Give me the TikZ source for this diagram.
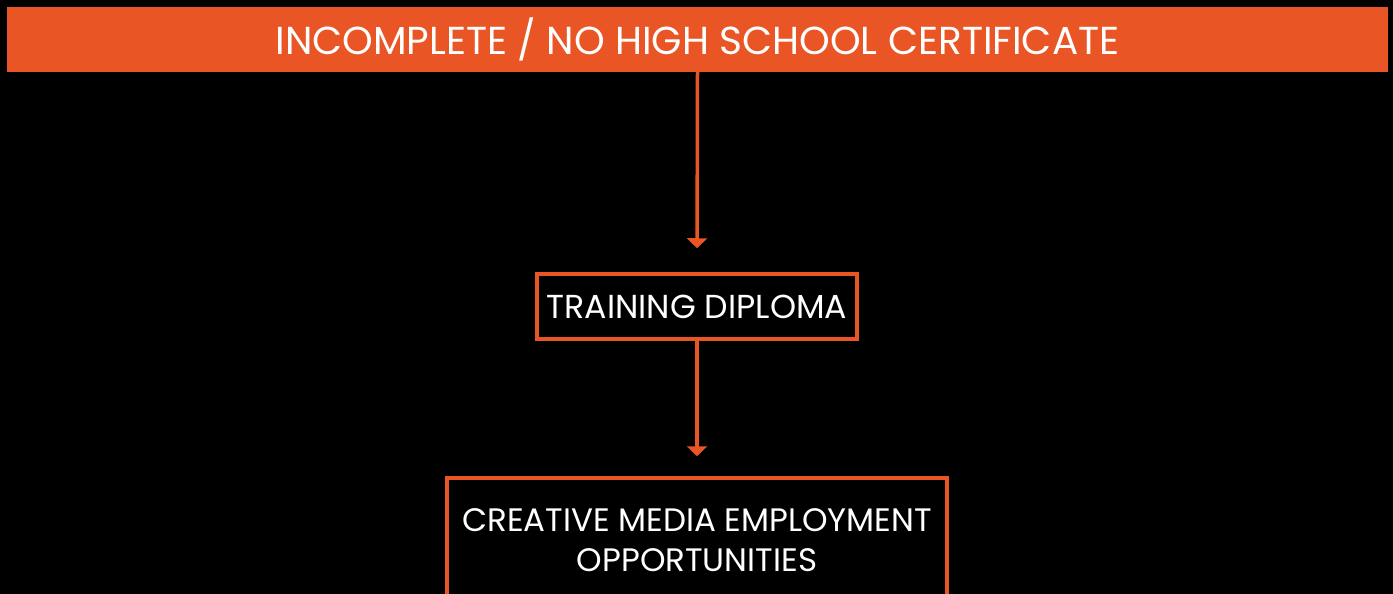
\documentclass[tikz,border=0pt]{standalone}
\usepackage{fontspec}
\setmainfont{Poppins}
\usetikzlibrary{arrows.meta}
\definecolor{pathorange}{HTML}{E95525}
\begin{document}
\begin{tikzpicture}[
            x=1pt, y=-1pt,
            every node/.style={white},
            stage/.style={draw=pathorange, line width=3.5pt, align=center, font=\fontsize{32.5}{39.5}\selectfont},
            flow/.style={pathorange, line width=3.5pt, -{Triangle[width=20pt,length=10pt]}}
        ]
            \fill [black] (0,0) rectangle (1393,594);
            \useasboundingbox (0,0) rectangle (1393,594);

            \node (start) [fill=pathorange, minimum width=1381pt, minimum height=65pt, inner sep=0pt,
                font=\fontsize{39}{40}\selectfont] at (697.5,39.5) {INCOMPLETE / NO HIGH SCHOOL CERTIFICATE};
            \node (diploma) [stage, minimum width=320pt, minimum height=65pt, inner sep=0pt,
                font=\fontsize{33.2}{39.5}\selectfont] at (697,306.5) {TRAINING DIPLOMA};
            \node (jobs) [stage, minimum width=500pt, minimum height=124pt, inner sep=0pt] at (697,540) {CREATIVE MEDIA EMPLOYMENT\\ OPPORTUNITIES};

            \draw [flow, shorten >=24pt] (start.south) -- (diploma.north);
            \draw [flow, shorten >=20pt] (diploma.south) -- (jobs.north);
        \end{tikzpicture}
\end{document}
